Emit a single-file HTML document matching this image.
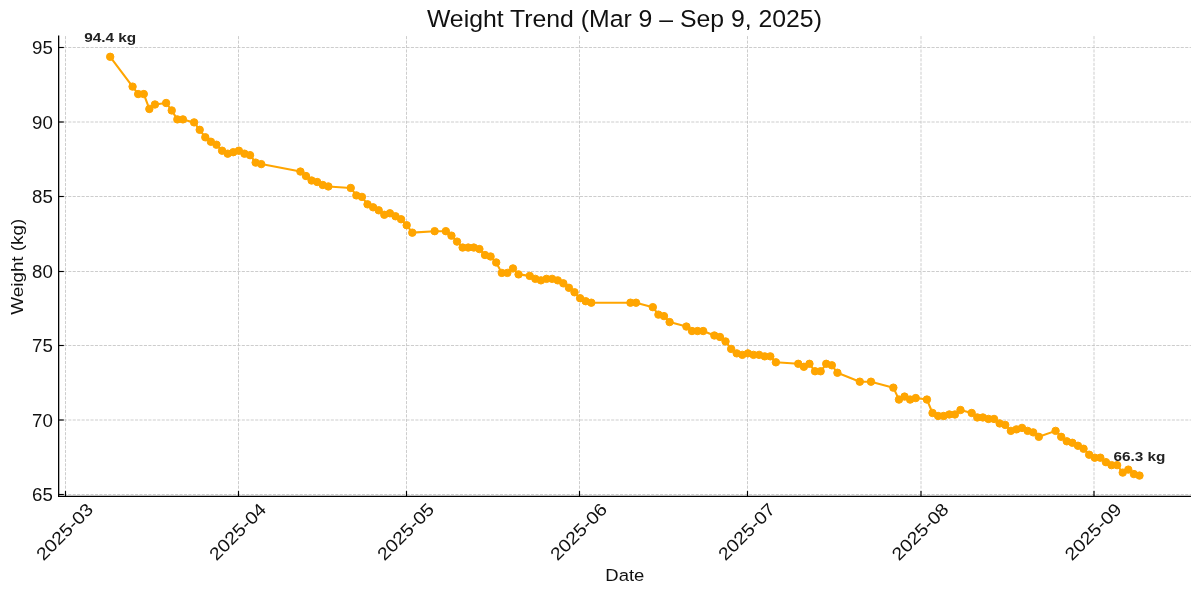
<!DOCTYPE html>
<html><head><meta charset="utf-8"><title>Weight Trend</title>
<style>html,body{margin:0;padding:0;background:#fff;}svg{display:block;will-change:transform;}</style>
</head><body>
<svg width="1200" height="595" viewBox="0 0 1200 595"><rect width="1200" height="595" fill="#fff"/><g stroke="#c4c4c4" stroke-width="0.85" stroke-dasharray="3.1 1.35" stroke-dashoffset="-0.6" fill="none"><line x1="65.50" y1="35.51" x2="65.50" y2="496.16"/><line x1="238.50" y1="35.51" x2="238.50" y2="496.16"/><line x1="406.50" y1="35.51" x2="406.50" y2="496.16"/><line x1="579.50" y1="35.51" x2="579.50" y2="496.16"/><line x1="747.50" y1="35.51" x2="747.50" y2="496.16"/><line x1="921.00" y1="35.51" x2="921.00" y2="496.16"/><line x1="1094.00" y1="35.51" x2="1094.00" y2="496.16"/><line x1="58.74" y1="494.50" x2="1190.96" y2="494.50"/><line x1="58.74" y1="420.00" x2="1190.96" y2="420.00"/><line x1="58.74" y1="345.50" x2="1190.96" y2="345.50"/><line x1="58.74" y1="271.50" x2="1190.96" y2="271.50"/><line x1="58.74" y1="196.50" x2="1190.96" y2="196.50"/><line x1="58.74" y1="122.00" x2="1190.96" y2="122.00"/><line x1="58.74" y1="47.50" x2="1190.96" y2="47.50"/></g><polyline points="110.20,56.80 132.58,86.61 138.17,94.06 143.77,94.06 149.36,108.96 154.95,104.49 166.14,103.00 171.74,110.45 177.33,119.39 182.92,119.39 194.11,122.38 199.71,129.83 205.30,137.28 210.89,141.75 216.49,144.73 222.08,150.69 227.68,153.67 233.27,152.18 238.86,150.69 244.46,153.67 250.05,155.16 255.65,162.61 261.24,164.10 300.40,171.55 305.99,176.03 311.59,180.50 317.18,181.99 322.77,184.97 328.37,186.46 350.74,187.95 356.34,195.40 361.93,196.89 367.53,204.34 373.12,207.32 378.71,210.30 384.31,214.77 389.90,213.28 395.50,216.26 401.09,219.24 406.68,225.21 412.28,232.66 434.65,231.17 445.84,231.17 451.44,235.64 457.03,241.60 462.62,247.56 468.22,247.56 473.81,247.56 479.41,249.05 485.00,255.01 490.59,256.50 496.19,262.46 501.78,272.90 507.38,272.90 512.97,268.42 518.56,274.39 529.75,275.88 535.35,278.86 540.94,280.35 546.53,278.86 552.13,278.86 557.72,280.35 563.32,283.33 568.91,287.80 574.50,292.27 580.10,298.23 585.69,301.21 591.29,302.70 630.44,302.70 636.04,302.70 652.82,307.17 658.41,314.62 664.01,316.11 669.60,322.08 686.38,326.55 691.98,331.02 697.57,331.02 703.17,331.02 714.35,335.49 719.95,336.98 725.54,341.45 731.14,348.90 736.73,353.37 742.32,354.86 747.92,353.37 753.51,354.86 759.11,354.86 764.70,356.35 770.29,356.35 775.89,362.31 798.26,363.80 803.86,366.78 809.45,363.80 815.05,371.26 820.64,371.26 826.23,363.80 831.83,365.29 837.42,372.75 859.80,381.69 870.99,381.69 893.36,387.65 898.96,399.57 904.55,396.59 910.14,399.57 915.74,398.08 926.93,399.57 932.52,412.98 938.11,415.96 943.71,415.96 949.30,414.47 954.90,414.47 960.49,410.00 971.68,412.98 977.27,417.45 982.87,417.45 988.46,418.94 994.05,418.94 999.65,423.42 1005.24,424.91 1010.84,430.87 1016.43,429.38 1022.02,427.89 1027.62,430.87 1033.21,432.36 1038.81,436.83 1055.59,430.87 1061.18,436.83 1066.78,441.30 1072.37,442.79 1077.96,445.77 1083.56,448.75 1089.15,454.71 1094.75,457.69 1100.34,457.69 1105.93,462.16 1111.53,465.14 1117.12,465.14 1122.72,472.60 1128.31,469.61 1133.90,474.09 1139.50,475.58" fill="none" stroke="#FFA500" stroke-width="2.08" stroke-linejoin="round" stroke-linecap="butt"/><g fill="#FFA500" stroke="#FFA500" stroke-width="1"><circle cx="110.20" cy="56.80" r="3.72"/><circle cx="132.58" cy="86.61" r="3.72"/><circle cx="138.17" cy="94.06" r="3.72"/><circle cx="143.77" cy="94.06" r="3.72"/><circle cx="149.36" cy="108.96" r="3.72"/><circle cx="154.95" cy="104.49" r="3.72"/><circle cx="166.14" cy="103.00" r="3.72"/><circle cx="171.74" cy="110.45" r="3.72"/><circle cx="177.33" cy="119.39" r="3.72"/><circle cx="182.92" cy="119.39" r="3.72"/><circle cx="194.11" cy="122.38" r="3.72"/><circle cx="199.71" cy="129.83" r="3.72"/><circle cx="205.30" cy="137.28" r="3.72"/><circle cx="210.89" cy="141.75" r="3.72"/><circle cx="216.49" cy="144.73" r="3.72"/><circle cx="222.08" cy="150.69" r="3.72"/><circle cx="227.68" cy="153.67" r="3.72"/><circle cx="233.27" cy="152.18" r="3.72"/><circle cx="238.86" cy="150.69" r="3.72"/><circle cx="244.46" cy="153.67" r="3.72"/><circle cx="250.05" cy="155.16" r="3.72"/><circle cx="255.65" cy="162.61" r="3.72"/><circle cx="261.24" cy="164.10" r="3.72"/><circle cx="300.40" cy="171.55" r="3.72"/><circle cx="305.99" cy="176.03" r="3.72"/><circle cx="311.59" cy="180.50" r="3.72"/><circle cx="317.18" cy="181.99" r="3.72"/><circle cx="322.77" cy="184.97" r="3.72"/><circle cx="328.37" cy="186.46" r="3.72"/><circle cx="350.74" cy="187.95" r="3.72"/><circle cx="356.34" cy="195.40" r="3.72"/><circle cx="361.93" cy="196.89" r="3.72"/><circle cx="367.53" cy="204.34" r="3.72"/><circle cx="373.12" cy="207.32" r="3.72"/><circle cx="378.71" cy="210.30" r="3.72"/><circle cx="384.31" cy="214.77" r="3.72"/><circle cx="389.90" cy="213.28" r="3.72"/><circle cx="395.50" cy="216.26" r="3.72"/><circle cx="401.09" cy="219.24" r="3.72"/><circle cx="406.68" cy="225.21" r="3.72"/><circle cx="412.28" cy="232.66" r="3.72"/><circle cx="434.65" cy="231.17" r="3.72"/><circle cx="445.84" cy="231.17" r="3.72"/><circle cx="451.44" cy="235.64" r="3.72"/><circle cx="457.03" cy="241.60" r="3.72"/><circle cx="462.62" cy="247.56" r="3.72"/><circle cx="468.22" cy="247.56" r="3.72"/><circle cx="473.81" cy="247.56" r="3.72"/><circle cx="479.41" cy="249.05" r="3.72"/><circle cx="485.00" cy="255.01" r="3.72"/><circle cx="490.59" cy="256.50" r="3.72"/><circle cx="496.19" cy="262.46" r="3.72"/><circle cx="501.78" cy="272.90" r="3.72"/><circle cx="507.38" cy="272.90" r="3.72"/><circle cx="512.97" cy="268.42" r="3.72"/><circle cx="518.56" cy="274.39" r="3.72"/><circle cx="529.75" cy="275.88" r="3.72"/><circle cx="535.35" cy="278.86" r="3.72"/><circle cx="540.94" cy="280.35" r="3.72"/><circle cx="546.53" cy="278.86" r="3.72"/><circle cx="552.13" cy="278.86" r="3.72"/><circle cx="557.72" cy="280.35" r="3.72"/><circle cx="563.32" cy="283.33" r="3.72"/><circle cx="568.91" cy="287.80" r="3.72"/><circle cx="574.50" cy="292.27" r="3.72"/><circle cx="580.10" cy="298.23" r="3.72"/><circle cx="585.69" cy="301.21" r="3.72"/><circle cx="591.29" cy="302.70" r="3.72"/><circle cx="630.44" cy="302.70" r="3.72"/><circle cx="636.04" cy="302.70" r="3.72"/><circle cx="652.82" cy="307.17" r="3.72"/><circle cx="658.41" cy="314.62" r="3.72"/><circle cx="664.01" cy="316.11" r="3.72"/><circle cx="669.60" cy="322.08" r="3.72"/><circle cx="686.38" cy="326.55" r="3.72"/><circle cx="691.98" cy="331.02" r="3.72"/><circle cx="697.57" cy="331.02" r="3.72"/><circle cx="703.17" cy="331.02" r="3.72"/><circle cx="714.35" cy="335.49" r="3.72"/><circle cx="719.95" cy="336.98" r="3.72"/><circle cx="725.54" cy="341.45" r="3.72"/><circle cx="731.14" cy="348.90" r="3.72"/><circle cx="736.73" cy="353.37" r="3.72"/><circle cx="742.32" cy="354.86" r="3.72"/><circle cx="747.92" cy="353.37" r="3.72"/><circle cx="753.51" cy="354.86" r="3.72"/><circle cx="759.11" cy="354.86" r="3.72"/><circle cx="764.70" cy="356.35" r="3.72"/><circle cx="770.29" cy="356.35" r="3.72"/><circle cx="775.89" cy="362.31" r="3.72"/><circle cx="798.26" cy="363.80" r="3.72"/><circle cx="803.86" cy="366.78" r="3.72"/><circle cx="809.45" cy="363.80" r="3.72"/><circle cx="815.05" cy="371.26" r="3.72"/><circle cx="820.64" cy="371.26" r="3.72"/><circle cx="826.23" cy="363.80" r="3.72"/><circle cx="831.83" cy="365.29" r="3.72"/><circle cx="837.42" cy="372.75" r="3.72"/><circle cx="859.80" cy="381.69" r="3.72"/><circle cx="870.99" cy="381.69" r="3.72"/><circle cx="893.36" cy="387.65" r="3.72"/><circle cx="898.96" cy="399.57" r="3.72"/><circle cx="904.55" cy="396.59" r="3.72"/><circle cx="910.14" cy="399.57" r="3.72"/><circle cx="915.74" cy="398.08" r="3.72"/><circle cx="926.93" cy="399.57" r="3.72"/><circle cx="932.52" cy="412.98" r="3.72"/><circle cx="938.11" cy="415.96" r="3.72"/><circle cx="943.71" cy="415.96" r="3.72"/><circle cx="949.30" cy="414.47" r="3.72"/><circle cx="954.90" cy="414.47" r="3.72"/><circle cx="960.49" cy="410.00" r="3.72"/><circle cx="971.68" cy="412.98" r="3.72"/><circle cx="977.27" cy="417.45" r="3.72"/><circle cx="982.87" cy="417.45" r="3.72"/><circle cx="988.46" cy="418.94" r="3.72"/><circle cx="994.05" cy="418.94" r="3.72"/><circle cx="999.65" cy="423.42" r="3.72"/><circle cx="1005.24" cy="424.91" r="3.72"/><circle cx="1010.84" cy="430.87" r="3.72"/><circle cx="1016.43" cy="429.38" r="3.72"/><circle cx="1022.02" cy="427.89" r="3.72"/><circle cx="1027.62" cy="430.87" r="3.72"/><circle cx="1033.21" cy="432.36" r="3.72"/><circle cx="1038.81" cy="436.83" r="3.72"/><circle cx="1055.59" cy="430.87" r="3.72"/><circle cx="1061.18" cy="436.83" r="3.72"/><circle cx="1066.78" cy="441.30" r="3.72"/><circle cx="1072.37" cy="442.79" r="3.72"/><circle cx="1077.96" cy="445.77" r="3.72"/><circle cx="1083.56" cy="448.75" r="3.72"/><circle cx="1089.15" cy="454.71" r="3.72"/><circle cx="1094.75" cy="457.69" r="3.72"/><circle cx="1100.34" cy="457.69" r="3.72"/><circle cx="1105.93" cy="462.16" r="3.72"/><circle cx="1111.53" cy="465.14" r="3.72"/><circle cx="1117.12" cy="465.14" r="3.72"/><circle cx="1122.72" cy="472.60" r="3.72"/><circle cx="1128.31" cy="469.61" r="3.72"/><circle cx="1133.90" cy="474.09" r="3.72"/><circle cx="1139.50" cy="475.58" r="3.72"/></g><g stroke="#000" fill="none"><line x1="58.65" y1="35.51" x2="58.65" y2="496.95" stroke-width="1.3"/><line x1="58.00" y1="496.35" x2="1190.96" y2="496.35" stroke-width="1.2"/><line x1="65.50" y1="496.35" x2="65.50" y2="491.05" stroke-width="1.15"/><line x1="238.50" y1="496.35" x2="238.50" y2="491.05" stroke-width="1.15"/><line x1="406.50" y1="496.35" x2="406.50" y2="491.05" stroke-width="1.15"/><line x1="579.50" y1="496.35" x2="579.50" y2="491.05" stroke-width="1.15"/><line x1="747.50" y1="496.35" x2="747.50" y2="491.05" stroke-width="1.15"/><line x1="921.00" y1="496.35" x2="921.00" y2="491.05" stroke-width="1.15"/><line x1="1094.00" y1="496.35" x2="1094.00" y2="491.05" stroke-width="1.15"/><line x1="58.65" y1="494.50" x2="63.85" y2="494.50" stroke-width="1.15"/><line x1="58.65" y1="420.00" x2="63.85" y2="420.00" stroke-width="1.15"/><line x1="58.65" y1="345.50" x2="63.85" y2="345.50" stroke-width="1.15"/><line x1="58.65" y1="271.50" x2="63.85" y2="271.50" stroke-width="1.15"/><line x1="58.65" y1="196.50" x2="63.85" y2="196.50" stroke-width="1.15"/><line x1="58.65" y1="122.00" x2="63.85" y2="122.00" stroke-width="1.15"/><line x1="58.65" y1="47.50" x2="63.85" y2="47.50" stroke-width="1.15"/></g><g font-family="Liberation Sans, sans-serif" fill="#111111"><text x="52.9" y="501" font-size="18" text-anchor="end" textLength="20.8" lengthAdjust="spacingAndGlyphs">65</text><text x="52.9" y="427" font-size="18" text-anchor="end" textLength="20.8" lengthAdjust="spacingAndGlyphs">70</text><text x="52.9" y="352" font-size="18" text-anchor="end" textLength="20.8" lengthAdjust="spacingAndGlyphs">75</text><text x="52.9" y="278" font-size="18" text-anchor="end" textLength="20.8" lengthAdjust="spacingAndGlyphs">80</text><text x="52.9" y="203" font-size="18" text-anchor="end" textLength="20.8" lengthAdjust="spacingAndGlyphs">85</text><text x="52.9" y="129" font-size="18" text-anchor="end" textLength="20.8" lengthAdjust="spacingAndGlyphs">90</text><text x="52.9" y="54" font-size="18" text-anchor="end" textLength="20.8" lengthAdjust="spacingAndGlyphs">95</text><text transform="translate(64.50,531.60) rotate(-45)" x="0" y="6.2" font-size="17.6" text-anchor="middle" textLength="72" lengthAdjust="spacingAndGlyphs">2025-03</text><text transform="translate(237.50,531.60) rotate(-45)" x="0" y="6.2" font-size="17.6" text-anchor="middle" textLength="72" lengthAdjust="spacingAndGlyphs">2025-04</text><text transform="translate(405.50,531.60) rotate(-45)" x="0" y="6.2" font-size="17.6" text-anchor="middle" textLength="72" lengthAdjust="spacingAndGlyphs">2025-05</text><text transform="translate(578.50,531.60) rotate(-45)" x="0" y="6.2" font-size="17.6" text-anchor="middle" textLength="72" lengthAdjust="spacingAndGlyphs">2025-06</text><text transform="translate(746.50,531.60) rotate(-45)" x="0" y="6.2" font-size="17.6" text-anchor="middle" textLength="72" lengthAdjust="spacingAndGlyphs">2025-07</text><text transform="translate(920.00,531.60) rotate(-45)" x="0" y="6.2" font-size="17.6" text-anchor="middle" textLength="72" lengthAdjust="spacingAndGlyphs">2025-08</text><text transform="translate(1093.00,531.60) rotate(-45)" x="0" y="6.2" font-size="17.6" text-anchor="middle" textLength="72" lengthAdjust="spacingAndGlyphs">2025-09</text><text x="624.8" y="581.4" font-size="17.4" text-anchor="middle" textLength="39" lengthAdjust="spacingAndGlyphs">Date</text><text transform="translate(22.9,266.7) rotate(-90)" x="0" y="0" font-size="17.4" text-anchor="middle" textLength="96" lengthAdjust="spacingAndGlyphs">Weight (kg)</text><text x="624.4" y="27.1" font-size="23.7" text-anchor="middle" textLength="395" lengthAdjust="spacingAndGlyphs">Weight Trend (Mar 9 – Sep 9, 2025)</text><text x="110.20" y="42.0" font-size="13" font-weight="bold" text-anchor="middle" textLength="52" fill="#222" lengthAdjust="spacingAndGlyphs">94.4 kg</text><text x="1139.50" y="460.8" font-size="13" font-weight="bold" text-anchor="middle" textLength="52" fill="#222" lengthAdjust="spacingAndGlyphs">66.3 kg</text></g></svg>
</body></html>
